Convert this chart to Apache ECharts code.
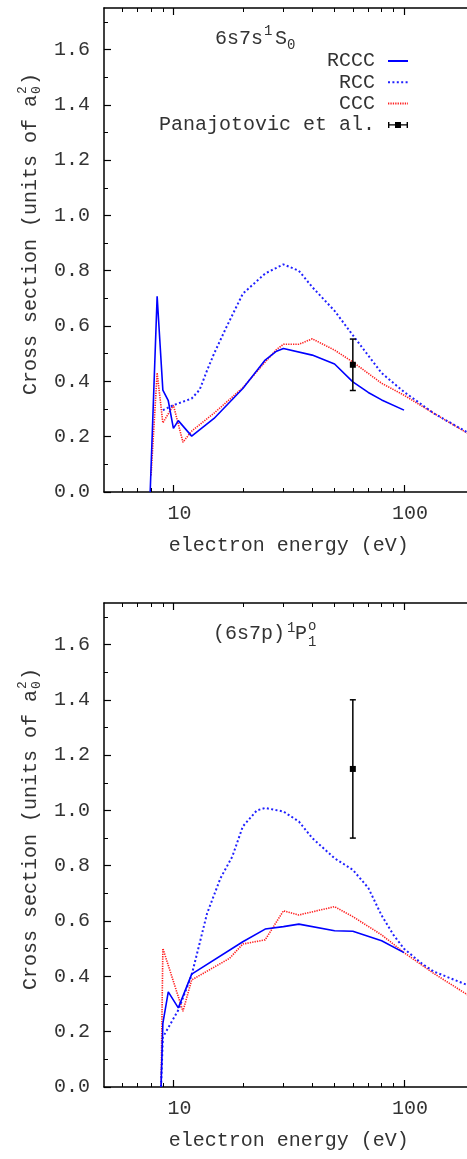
<!DOCTYPE html>
<html><head><meta charset="utf-8">
<script src="https://cdn.jsdelivr.net/npm/echarts@6/dist/echarts.min.js"></script>
<style>html,body{margin:0;padding:0;background:#fff}#c{width:467px;height:1159px}</style>
</head><body><div id="c"></div>
<script>
const FONT = '"Liberation Mono", "Courier New", monospace';
const TXT = '#333';

// ---- axis ticks / labels ----
const xMajorTicks = [10, 100];
const xMinorTicks = [6, 7, 8, 9, 20, 30, 40, 50, 60, 70, 80, 90];
const yTickLabels = [0, 0.2, 0.4, 0.6, 0.8, 1.0, 1.2, 1.4, 1.6];
const yMinorTicks = [0.1, 0.3, 0.5, 0.7, 0.9, 1.1, 1.3, 1.5, 1.7];
const xMin = 5, xMax = 200, yMin = 0, yMax = 1.75;

// ---- panel 1: 6s7s 1S0 ----
const p1_rccc_E = [7.93, 8.5, 9, 9.5, 10, 10.5, 12, 15, 20, 25, 28, 30, 40, 50, 60, 70, 80, 100];
const p1_rccc_V = [0, 0.708, 0.368, 0.33, 0.23, 0.258, 0.202, 0.266, 0.374, 0.477, 0.509, 0.519, 0.495, 0.463, 0.398, 0.36, 0.333, 0.296];
const p1_rcc_E = [9, 10, 12, 13, 14, 15, 17, 20, 25, 30, 35, 40, 50, 60, 80, 100, 135, 200];
const p1_rcc_V = [0.296, 0.314, 0.338, 0.37, 0.44, 0.5, 0.597, 0.717, 0.79, 0.823, 0.80, 0.741, 0.655, 0.567, 0.43, 0.362, 0.284, 0.203];
const p1_ccc_E = [8, 8.5, 9, 10, 11, 12, 15, 20, 25, 28, 30, 35, 40, 50, 60, 80, 100, 135, 200];
const p1_ccc_V = [0.06, 0.431, 0.25, 0.314, 0.18, 0.22, 0.285, 0.377, 0.47, 0.515, 0.534, 0.534, 0.554, 0.513, 0.47, 0.393, 0.35, 0.284, 0.2];
const p1_exp_E = [60];
const p1_exp_V = [0.46];
const p1_exp_Err = [0.093];

// ---- panel 2: (6s7p) 1P1 ----
const p2_rccc_E = [8.84, 9, 9.5, 10.5, 12, 20, 25, 30, 35, 50, 60, 80, 100];
const p2_rccc_V = [0, 0.23, 0.344, 0.286, 0.408, 0.525, 0.571, 0.58, 0.589, 0.565, 0.563, 0.529, 0.486];
const p2_rcc_E = [8.84, 9, 10.5, 12, 14, 16, 18, 20, 23, 25, 30, 35, 40, 50, 60, 70, 80, 90, 100, 120, 135, 200];
const p2_rcc_V = [0, 0.18, 0.278, 0.405, 0.628, 0.755, 0.833, 0.942, 1.0, 1.009, 0.996, 0.96, 0.9, 0.827, 0.785, 0.72, 0.62, 0.55, 0.50, 0.445, 0.417, 0.36];
const p2_ccc_E = [8.84, 9, 11, 12, 17.5, 20, 25, 30, 35, 50, 60, 80, 100, 135, 200];
const p2_ccc_V = [0, 0.501, 0.274, 0.387, 0.465, 0.517, 0.532, 0.637, 0.622, 0.652, 0.616, 0.55, 0.486, 0.41, 0.32];
const p2_exp_E = [60];
const p2_exp_V = [1.15];
const p2_exp_Err = [0.25];

const zip = (a, b) => a.map((v, i) => [v, b[i]]);
const zip3 = (a, b, c) => a.map((v, i) => [v, b[i], c[i]]);

const grids = [
  { left: 104, top: 8, width: 369.4, height: 484, containLabel: false, outerBoundsMode: 'none' },
  { left: 104, top: 603, width: 369.4, height: 484, containLabel: false, outerBoundsMode: 'none' }
];

function xAxesFor(g) {
  const base = { type: 'log', logBase: 10, min: xMin, max: xMax, gridIndex: g, splitLine: { show: false }, silent: true };
  return [
    Object.assign({}, base, {
      position: 'bottom',
      axisLine: { show: true, onZero: false, lineStyle: { color: '#000', width: 1.5 } },
      axisTick: { show: true, inside: true, length: 7, customValues: xMajorTicks, lineStyle: { color: '#000', width: 1.2 } },
      axisLabel: { show: true, customValues: xMajorTicks, margin: 12, fontFamily: FONT, fontSize: 20, color: TXT, padding: [0, 0, 0, 12] },
      name: 'electron energy (eV)', nameLocation: 'middle', nameGap: 44,
      nameTextStyle: { fontFamily: FONT, fontSize: 20, color: TXT }
    }),
    Object.assign({}, base, {
      position: 'bottom',
      axisLine: { show: false, onZero: false },
      axisTick: { show: true, inside: true, length: 4, customValues: xMinorTicks, lineStyle: { color: '#000', width: 1 } },
      axisLabel: { show: false }
    }),
    Object.assign({}, base, {
      position: 'top',
      axisLine: { show: true, onZero: false, lineStyle: { color: '#000', width: 1.5 } },
      axisTick: { show: true, inside: true, length: 7, customValues: xMajorTicks, lineStyle: { color: '#000', width: 1.2 } },
      axisLabel: { show: false }
    }),
    Object.assign({}, base, {
      position: 'top',
      axisLine: { show: false, onZero: false },
      axisTick: { show: true, inside: true, length: 4, customValues: xMinorTicks, lineStyle: { color: '#000', width: 1 } },
      axisLabel: { show: false }
    })
  ];
}

function yAxesFor(g) {
  const base = { type: 'value', min: yMin, max: yMax, gridIndex: g, position: 'left', splitLine: { show: false }, silent: true };
  return [
    Object.assign({}, base, {
      axisLine: { show: true, onZero: false, lineStyle: { color: '#000', width: 1.5 } },
      axisTick: { show: true, inside: true, length: 7, customValues: yTickLabels, lineStyle: { color: '#000', width: 1.2 } },
      axisLabel: { show: true, customValues: yTickLabels, margin: 14, fontFamily: FONT, fontSize: 20, color: TXT,
        padding: [5, 0, 0, 0], formatter: v => Number(v).toFixed(1) }
    }),
    Object.assign({}, base, {
      axisLine: { show: false, onZero: false },
      axisTick: { show: true, inside: true, length: 4, customValues: yMinorTicks, lineStyle: { color: '#000', width: 1 } },
      axisLabel: { show: false }
    })
  ];
}

function errRender(params, api) {
  const x = api.value(0), y = api.value(1), e = api.value(2);
  const c = api.coord([x, y]);
  const t = api.coord([x, y + e]);
  const b = api.coord([x, y - e]);
  const st = { stroke: '#000', lineWidth: 1.5 };
  return {
    type: 'group',
    children: [
      { type: 'line', shape: { x1: c[0], y1: t[1], x2: c[0], y2: b[1] }, style: st },
      { type: 'line', shape: { x1: c[0] - 3, y1: t[1], x2: c[0] + 3, y2: t[1] }, style: st },
      { type: 'line', shape: { x1: c[0] - 3, y1: b[1], x2: c[0] + 3, y2: b[1] }, style: st },
      { type: 'rect', shape: { x: c[0] - 3, y: c[1] - 3, width: 6, height: 6 }, style: { fill: '#000' } }
    ]
  };
}

function seriesFor(g, rcccE, rcccV, rccE, rccV, cccE, cccV, eE, eV, eErr) {
  const xi = g * 4, yi = g * 2;
  const common = { type: 'line', xAxisIndex: xi, yAxisIndex: yi, symbol: 'none', showSymbol: false, smooth: false, silent: true, animation: false };
  return [
    Object.assign({}, common, { name: 'RCCC', data: zip(rcccE, rcccV), lineStyle: { color: '#0000ff', width: 1.6, type: 'solid' }, itemStyle: { color: '#0000ff' }, z: 4 }),
    Object.assign({}, common, { name: 'RCC', data: zip(rccE, rccV), lineStyle: { color: '#2020ff', width: 2, type: [2, 2.4] }, itemStyle: { color: '#2020ff' }, z: 3 }),
    Object.assign({}, common, { name: 'CCC', data: zip(cccE, cccV), lineStyle: { color: '#ff2020', width: 1.6, type: [1.3, 1.1] }, itemStyle: { color: '#ff2020' }, z: 2 }),
    { type: 'custom', name: 'Panajotovic et al.', xAxisIndex: xi, yAxisIndex: yi, data: zip3(eE, eV, eErr),
      encode: { x: 0, y: 1 }, renderItem: errRender, itemStyle: { color: '#000' }, silent: true, animation: false, z: 5 }
  ];
}

function yTitle(top) {
  const f = s => s + 'px ' + FONT;
  return {
    type: 'group', x: 31, y: top, rotation: Math.PI / 2, silent: true,
    children: [
      { type: 'text', x: 0, y: 0, style: { text: 'Cross section (units of a', font: f(20), fill: TXT, align: 'left', verticalAlign: 'middle' } },
      { type: 'text', x: 301, y: 6, style: { text: '0', font: f(13), fill: TXT, align: 'left', verticalAlign: 'middle' } },
      { type: 'text', x: 301, y: -8, style: { text: '2', font: f(13), fill: TXT, align: 'left', verticalAlign: 'middle' } },
      { type: 'text', x: 310, y: 0, style: { text: ')', font: f(20), fill: TXT, align: 'left', verticalAlign: 'middle' } }
    ]
  };
}
function t(x, y, s, size) {
  return { type: 'text', x: x, y: y, silent: true, style: { text: s, font: size + 'px ' + FONT, fill: TXT, align: 'left', verticalAlign: 'middle' } };
}

const chart = echarts.init(document.getElementById('c'), null, { renderer: 'canvas' });
chart.setOption({
  animation: false,
  backgroundColor: '#fff',
  grid: grids,
  xAxis: xAxesFor(0).concat(xAxesFor(1)),
  yAxis: yAxesFor(0).concat(yAxesFor(1)),
  legend: {
    orient: 'vertical', right: 58, top: 51, align: 'right', padding: 0, itemGap: 1.3,
    itemWidth: 20, itemHeight: 8, selectedMode: false,
    itemStyle: { opacity: 0 },
    textStyle: { fontFamily: FONT, fontSize: 20, color: TXT, padding: [0, 8, 0, 0] },
    data: [
      { name: 'RCCC' }, { name: 'RCC' }, { name: 'CCC' },
      { name: 'Panajotovic et al.', icon: 'path://M0,3.3H20V4.7H0Z M0,1H1.4V7H0Z M18.6,1H20V7H18.6Z M7,1H13V7H7Z', itemStyle: { opacity: 1, color: '#000' } }
    ]
  },
  graphic: [
    yTitle(395), yTitle(990),
    t(215, 38.5, '6s7s', 20), t(264, 31.5, '1', 14), t(275, 38.5, 'S', 20), t(287, 45.5, '0', 14),
    t(213, 634, '(6s7p)', 20), t(287, 628, '1', 14), t(295, 634, 'P', 20), t(308, 626, 'o', 14), t(308, 642, '1', 14)
  ],
  series: seriesFor(0, p1_rccc_E, p1_rccc_V, p1_rcc_E, p1_rcc_V, p1_ccc_E, p1_ccc_V, p1_exp_E, p1_exp_V, p1_exp_Err)
    .concat(seriesFor(1, p2_rccc_E, p2_rccc_V, p2_rcc_E, p2_rcc_V, p2_ccc_E, p2_ccc_V, p2_exp_E, p2_exp_V, p2_exp_Err))
});
</script>
</body></html>
